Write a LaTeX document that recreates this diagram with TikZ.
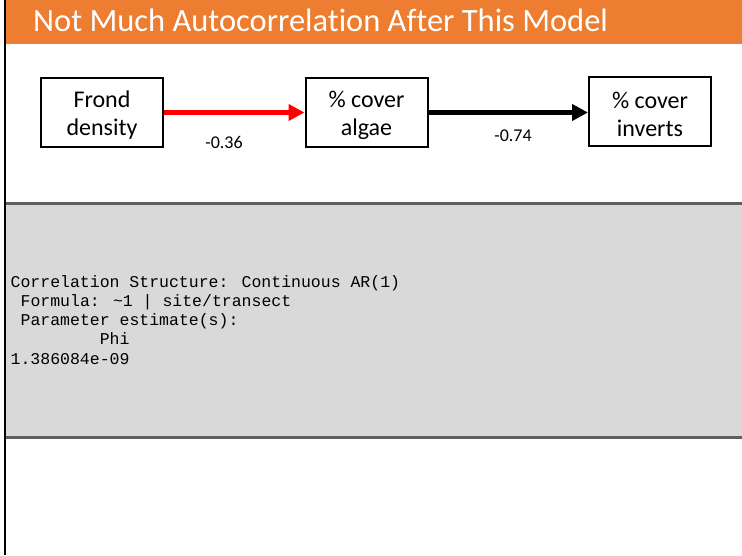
\documentclass[tikz,border=0pt]{standalone}
\usepackage{fontspec}
\setmainfont{Carlito}[Ligatures=NoCommon]
\newfontfamily\codefont{Liberation Mono}
\usetikzlibrary{arrows.meta}
\definecolor{headorange}{HTML}{ED7D31}
\definecolor{panelgray}{HTML}{D9D9D9}
\definecolor{panelrule}{HTML}{5F5F5F}
\tikzset{
  varbox/.style={draw=black, line width=2pt, fill=white,
    minimum width=122pt, minimum height=69pt, inner sep=0pt},
  vartext/.style={align=center, inner sep=0pt, yshift=-3pt,
    font=\fontsize{24}{28}\selectfont},
  pathlink/.style={line width=5pt, -{Triangle[length=16pt,width=16pt]}},
  coeflabel/.style={font=\fontsize{18}{21}\selectfont, inner sep=0pt},
  codeline/.style={anchor=base west, inner sep=0pt,
    font=\codefont\fontsize{16.5}{19}\selectfont},
}
\begin{document}
\begin{tikzpicture}[x=1pt,y=-1pt]
  \useasboundingbox (0,0) rectangle (742,555);
  \fill[white] (0,0) rectangle (742,555);

  % title band
  \fill[headorange] (5,0) rectangle (742,44);
  \node[anchor=base west, inner sep=0pt, text=white,
        font=\fontsize{32.5}{36}\selectfont] (title) at (33,31)
        {Not Much Autocorrelation After This Model};

  % path diagram
  \node[varbox] (frond)   at (102,112.5) {};
  \node[varbox] (algae)   at (366.5,112.5) {};
  \node[varbox] (inverts) at (650,111) {};
  \node[vartext] (frondtxt)   at (frond.center)   {Frond\\density};
  \node[vartext] (algaetxt)   at (algae.center)   {\% cover\\algae};
  \node[vartext] (invertstxt) at (inverts.center) {\% cover\\inverts};

  \draw[pathlink, red] (frond.east) -- (algae.west);
  \draw[pathlink, black] (algae.east) -- (inverts.west |- algae.east);

  \node[coeflabel] (c1) at (224,142) {-0.36};
  \node[coeflabel] (c2) at (513,135.5) {-0.74};

  % model output panel
  \fill[panelgray] (5,203.5) rectangle (742,437.5);
  \draw[panelrule, line width=3pt] (5,203.5) -- (742,203.5);
  \draw[panelrule, line width=3pt] (5,437.5) -- (742,437.5);

  \node[codeline] (l1) at (10.5,287) {Correlation Structure: Continuous AR(1)};
  \node[codeline] (l2) at (10.5,306) {\hphantom{0}Formula: \textasciitilde 1 \textbar\ site/transect};
  \node[codeline] (l3) at (10.5,325.5) {\hphantom{0}Parameter estimate(s):};
  \node[codeline] (l4) at (10.5,344.5) {\hphantom{000000000}Phi};
  \node[codeline] (l5) at (10.5,364) {1.386084e-09};

  % left slide edge
  \draw[black, line width=2.5pt] (5,0) -- (5,555);
\end{tikzpicture}
\end{document}
